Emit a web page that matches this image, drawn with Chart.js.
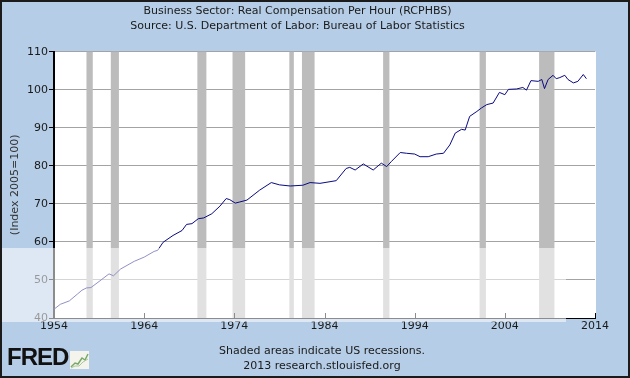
<!DOCTYPE html>
<html>
<head>
<meta charset="utf-8">
<script src="https://cdn.jsdelivr.net/npm/chart.js@4/dist/chart.umd.min.js"></script>
<style>
    body { margin: 0; }
    #quadro {
        position: relative;
        width: 630px;
        height: 378px;
        background: #b5cde6;
        font-family: "DejaVu Sans", Verdana, sans-serif;
    }
    #grafico { position: absolute; left: 0; top: 0; }
    #borda {
        position: absolute; left: 0; top: 0; right: 0; bottom: 0;
        border: 2px solid #1b1b1b;
        pointer-events: none;
    }
    .rodape {
        position: absolute;
        left: 0;
        width: 644px;
        text-align: center;
        font-size: 11px;
        color: #1a1a1a;
    }
    #logo {
        position: absolute;
        left: 7px;
        top: 343px;
        font-family: "Liberation Sans", Arial, sans-serif;
        font-weight: bold;
        font-size: 24px;
        letter-spacing: -1px;
        color: #111;
    }
    #icone { position: absolute; left: 70px; top: 351px; }
</style>
</head>
<body>
<div id="quadro">
    <canvas id="grafico" width="630" height="378"></canvas>
    <div class="rodape" style="top:344px">Shaded areas indicate US recessions.</div>
    <div class="rodape" style="top:359px">2013 research.stlouisfed.org</div>
    <div id="logo">FRED</div>
    <svg id="icone" width="19" height="18">
        <rect x="0" y="0" width="19" height="18" fill="#f4f4ec"/>
        <polyline points="1,16 5,12 8,13 12,7 15,9 18,3" fill="none" stroke="#7aa86a" stroke-width="1.5"/>
        <polyline points="1,17 5,15 9,15 13,11 18,8" fill="none" stroke="#a9c79a" stroke-width="1"/>
    </svg>
    <div id="borda"></div>
</div>
<script>
// dados (RCPHBS, indice 2005=100)
var anos = [1954.0, 1954.7, 1955.7, 1956.6, 1957.1, 1957.6, 1958.1, 1959.0, 1960.1, 1960.6,
    1961.4, 1962.9, 1964.0, 1965.1, 1965.5, 1966.1, 1967.2, 1968.2, 1968.7, 1969.3,
    1970.0, 1970.6, 1971.5, 1972.4, 1973.1, 1973.5, 1974.1, 1974.6, 1975.4, 1976.8,
    1978.1, 1979.0, 1980.2, 1981.6, 1982.4, 1983.5, 1985.3, 1986.4, 1986.8, 1987.4,
    1988.3, 1989.4, 1990.3, 1990.9, 1991.4, 1992.4, 1993.1, 1994.0, 1994.6, 1995.5,
    1996.4, 1997.2, 1997.9, 1998.5, 1999.2, 1999.6, 2000.1, 2000.9, 2001.4, 2002.0,
    2002.7, 2003.4, 2004.0, 2004.4, 2005.3, 2006.0, 2006.4, 2006.9, 2007.7, 2008.1,
    2008.4, 2008.8, 2009.35, 2009.7, 2010.1, 2010.65, 2011.0, 2011.6, 2012.1, 2012.7,
    2013.05]

var valores = [42.3, 43.6, 44.5, 46.3, 47.3, 47.9, 48.0, 49.6, 51.6, 51.1,
    52.9, 54.9, 56.0, 57.5, 57.8, 59.9, 61.7, 63.0, 64.6, 64.8,
    66.1, 66.3, 67.4, 69.4, 71.4, 71.1, 70.2, 70.5, 71.0, 73.6,
    75.6, 75.0, 74.7, 74.9, 75.6, 75.4, 76.1, 79.3, 79.6, 78.9,
    80.5, 78.9, 80.7, 79.8, 81.1, 83.5, 83.3, 83.1, 82.4, 82.4,
    83.1, 83.3, 85.5, 88.6, 89.6, 89.4, 93.0, 94.3, 95.2, 96.1,
    96.5, 99.3, 98.7, 100.1, 100.2, 100.6, 99.9, 102.4, 102.2, 102.7,
    100.3, 102.7, 103.8, 102.9, 103.2, 103.8, 102.7, 101.8, 102.2, 104.0,
    102.9]

// recessoes (inicio e fim)
var recessaoInicio = [1957.6, 1960.3, 1969.9, 1973.8, 1980.1, 1981.5, 1990.5, 2001.2, 2007.8]
var recessaoFim = [1958.3, 1961.2, 1970.9, 1975.2, 1980.6, 1982.9, 1991.2, 2001.9, 2009.5]

var tituloLinhas = ["Business Sector: Real Compensation Per Hour (RCPHBS)",
    "Source: U.S. Department of Labor: Bureau of Labor Statistics"]
var tituloEixoY = "(Index 2005=100)"

var pontos = anos.map(function (ano, i) {
    return { x: ano, y: valores[i] }
})

var fonte = "DejaVu Sans"

var pluginFundo = {
    id: "fundo",
    beforeDraw: function (chart) {
        var ctx = chart.ctx
        var area = chart.chartArea
        ctx.save()
        ctx.fillStyle = "#ffffff"
        ctx.fillRect(area.left, area.top, area.right - area.left + 1, area.bottom - area.top)
        ctx.restore()
    },
    beforeDatasetsDraw: function (chart) {
        var ctx = chart.ctx
        var area = chart.chartArea
        var x = chart.scales.x
        ctx.save()
        ctx.fillStyle = "#bcbcbc"
        for (var i = 0; i < recessaoInicio.length; i++) {
            var x1 = x.getPixelForValue(recessaoInicio[i])
            var x2 = x.getPixelForValue(recessaoFim[i])
            ctx.fillRect(x1, area.top, x2 - x1, area.bottom - area.top)
        }
        // marcas do eixo x para dentro
        ctx.strokeStyle = "#000000"
        ctx.lineWidth = 1
        x.ticks.forEach(function (t) {
            var px = Math.round(x.getPixelForValue(t.value)) + 0.5
            ctx.beginPath()
            ctx.moveTo(px, area.bottom)
            ctx.lineTo(px, area.bottom - 5)
            ctx.stroke()
        })
        ctx.restore()
    },
    afterDraw: function (chart) {
        // faixa clara da marca d'agua
        var ctx = chart.ctx
        ctx.save()
        ctx.fillStyle = "rgba(255,255,255,0.55)"
        ctx.fillRect(0, 248, 566, 74)
        ctx.restore()
    }
}

var canvas = document.getElementById("grafico")

var grafico = new Chart(canvas, {
    type: 'line',
    data: {
        datasets: [{
            label: 'RCPHBS',
            data: pontos,
            borderColor: '#0a0a82',
            borderWidth: 1,
            pointRadius: 0,
            fill: false,
            tension: 0
        }]
    },
    options: {
        responsive: false,
        animation: false,
        layout: {
            padding: { left: 0, right: 35, top: 0, bottom: 0 }
        },
        plugins: {
            legend: { display: false },
            tooltip: { enabled: false },
            title: {
                display: true,
                text: tituloLinhas,
                color: '#1a1a1a',
                font: { family: fonte, size: 11, weight: 'normal', lineHeight: 1.35 },
                padding: { top: 4, bottom: 18 }
            }
        },
        scales: {
            x: {
                type: 'linear',
                min: 1954,
                max: 2014,
                afterFit: function (scale) { scale.height = 60 },
                ticks: {
                    stepSize: 10,
                    color: '#1a1a1a',
                    padding: 2,
                    maxRotation: 0,
                    font: { family: fonte, size: 11 },
                    callback: function (valor) { return String(valor) }
                },
                grid: { display: true, drawOnChartArea: false, drawTicks: false },
                border: { display: true, color: '#000000', width: 1 }
            },
            y: {
                min: 40,
                max: 110,
                afterFit: function (scale) { scale.width = 54 },
                ticks: {
                    stepSize: 10,
                    color: '#1a1a1a',
                    padding: 1,
                    font: { family: fonte, size: 11 }
                },
                grid: { color: '#a3a3a3', tickColor: '#000000', tickLength: 5 },
                border: { color: '#000000', width: 2 },
                title: {
                    display: true,
                    text: tituloEixoY,
                    color: '#333333',
                    font: { family: fonte, size: 11 },
                    padding: { top: 9, bottom: 0 }
                }
            }
        }
    },
    plugins: [pluginFundo]
})
</script>
</body>
</html>
